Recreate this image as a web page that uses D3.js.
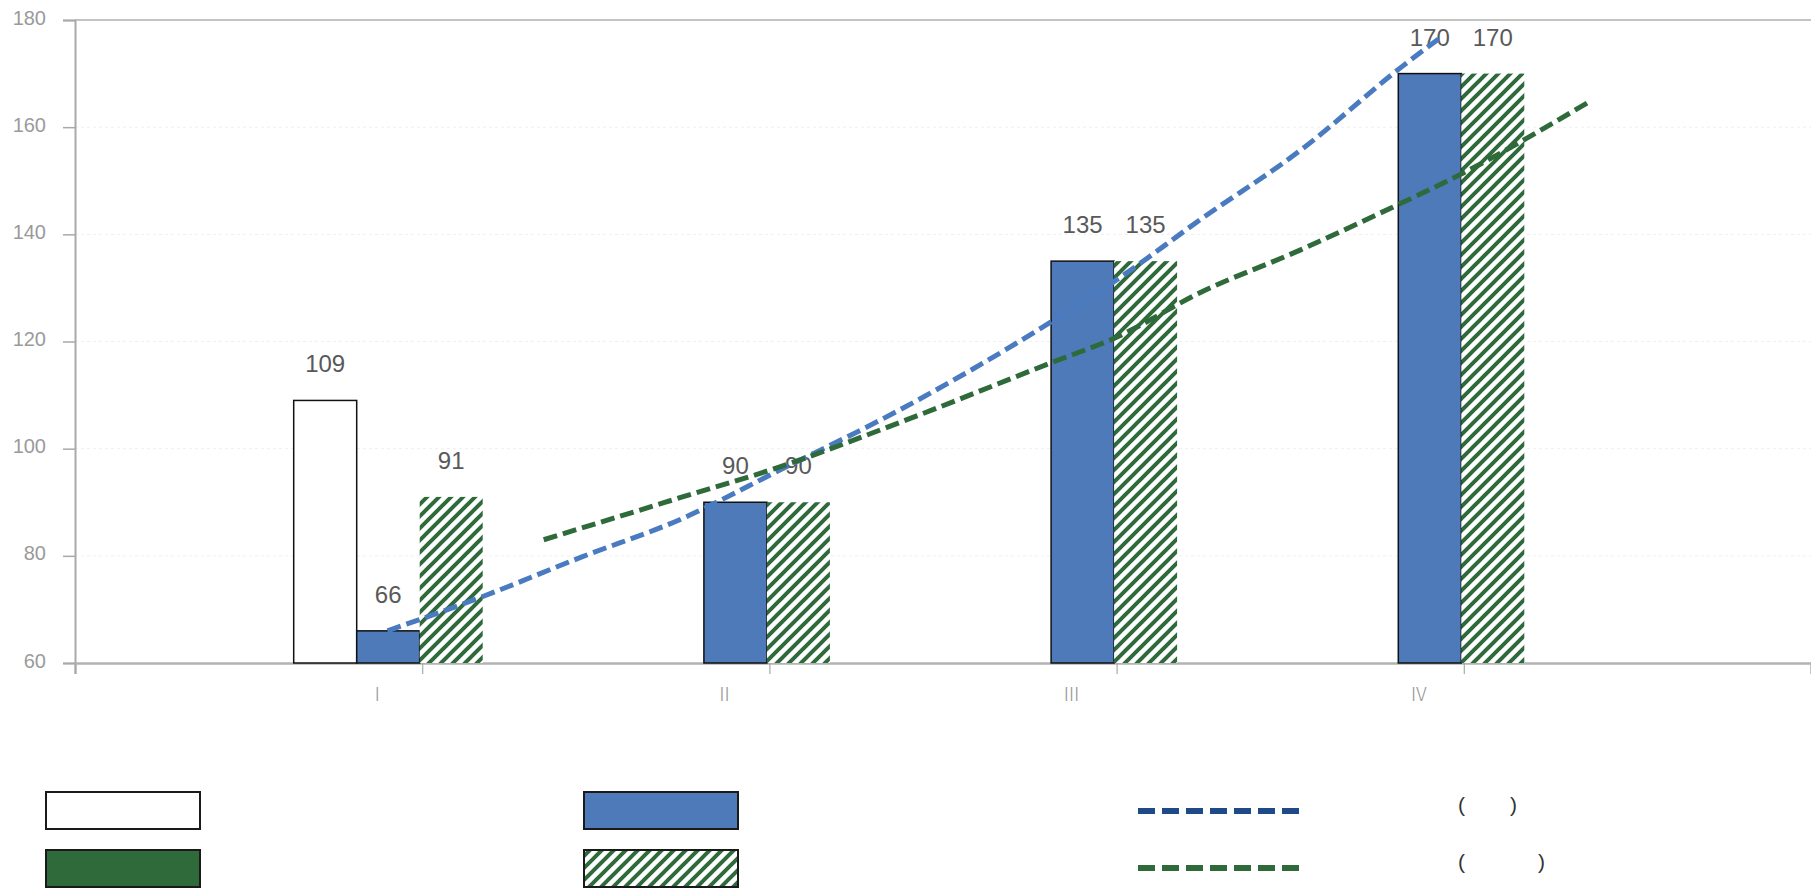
<!DOCTYPE html>
<html>
<head>
<meta charset="utf-8">
<script src="https://cdn.jsdelivr.net/npm/d3@7"></script>
<style>
  body { margin: 0; background: #fff; }
  svg { display: block; }
</style>
</head>
<body>
<div id="plot"></div>
<script>
// data
const CATEGORIES = ["Ⅰ", "Ⅱ", "Ⅲ", "Ⅳ"];
const WHITE_VALUES = [109, null, null, null];
const BLUE_VALUES = [66, 90, 135, 170];
const HATCH_VALUES = [91, 90, 135, 170];
const GREEN_VALUES = [null, null, null, null]; // only in the legend
const Y_TICKS = [60, 80, 100, 120, 140, 160, 180];

// trend lines (x in category units)
const BLUE_TREND_X = [0.9, 1.17, 1.46, 1.74, 2.03, 2.38, 2.81, 3.0, 3.24, 3.53, 3.82, 3.93];
const BLUE_TREND_Y = [66, 72.3, 79.8, 86.7, 96, 107.4, 123.6, 131.5, 142.7, 155.7, 171.2, 176.6];
const GREEN_TREND_X = [1.35, 1.74, 2.03, 2.38, 2.81, 3.0, 3.24, 3.53, 3.76, 4.0, 4.36];
const GREEN_TREND_Y = [83, 90.8, 96.6, 105, 116, 120.8, 129.1, 137.1, 144, 151.5, 164.7];

const BLUE = "#4e7aba";
const GREEN = "#2f6a3b";
const LINE_BLUE = "#4a7bc0";
const LEGEND_BLUE = "#1f4a88";

const width = 1811, height = 890;

let svg = d3.select("#plot").append("svg")
  .attr("width", width)
  .attr("height", height);

// hatch pattern (wide upward diagonal)
const P = 12;
let defs = svg.append("defs");
let pat = defs.append("pattern")
  .attr("id", "hatch")
  .attr("patternUnits", "userSpaceOnUse")
  .attr("width", P)
  .attr("height", P);
pat.append("rect").attr("width", P).attr("height", P).attr("fill", "#fff");
pat.append("path")
  .attr("d", "M-3," + (P + 3) + " L" + (P + 3) + ",-3 M-3,3 L3,-3 M" + (P - 3) + "," + (P + 3) + " L" + (P + 3) + "," + (P - 3))
  .attr("stroke", GREEN)
  .attr("stroke-width", 4);

let x = d3.scaleLinear().domain([0, 5]).range([75, 1811]);
let y = d3.scaleLinear().domain([60, 180]).range([663, 20]);

// gridlines
svg.append("g")
  .selectAll("line")
  .data(Y_TICKS.filter(d => d > 60 && d < 180))
  .enter()
  .append("line")
    .attr("x1", x(0)).attr("x2", width)
    .attr("y1", d => y(d)).attr("y2", d => y(d))
    .attr("stroke", "#efefef")
    .attr("stroke-dasharray", "3,3");

svg.append("line")
  .attr("x1", x(0)).attr("x2", width)
  .attr("y1", y(180)).attr("y2", y(180))
  .attr("stroke", "#c3c3c3")
  .attr("stroke-width", 2);

// y axis
let yAxis = svg.append("g")
  .attr("transform", "translate(" + x(0) + ",0)")
  .call(d3.axisLeft(y).tickValues(Y_TICKS).tickSize(12).tickPadding(17));
yAxis.select(".domain").attr("stroke", "#a9a9a9").attr("stroke-width", 2);
yAxis.selectAll(".tick line").attr("stroke", "#a9a9a9").attr("stroke-width", 1.5);
yAxis.selectAll(".tick text")
  .attr("fill", "#9a9a9a")
  .attr("dy", "0.2em")
  .style("font-family", "'Liberation Sans', Arial, sans-serif")
  .style("font-size", "20px");

// x axis
let xAxis = svg.append("g")
  .attr("transform", "translate(0," + y(60) + ")")
  .call(d3.axisBottom(x).tickValues([0, 1, 2, 3, 4]).tickSize(11).tickFormat(""));
xAxis.select(".domain").attr("stroke", "#b3b3b3").attr("stroke-width", 2.5);
xAxis.selectAll(".tick line").attr("stroke", "#a9a9a9").attr("stroke-width", 1.2);

svg.append("g")
  .selectAll("text")
  .data(CATEGORIES)
  .enter()
  .append("text")
    .attr("x", (d, i) => x(i + 1) - 45)
    .attr("y", 701)
    .attr("text-anchor", "middle")
    .attr("fill", "#9a9a9a")
    .style("font-family", "'Noto Sans CJK SC', sans-serif")
    .style("font-size", "19px")
    .style("font-weight", "300")
    .text(d => d);

// bars: 4 slots per category, width w
const w = 63;
const shift = -2.5;
const SERIES = [
  { values: WHITE_VALUES, slot: 0, fill: "#fff", stroke: "#111" },
  { values: BLUE_VALUES, slot: 1, fill: BLUE, stroke: "#111" },
  { values: HATCH_VALUES, slot: 2, fill: "url(#hatch)", stroke: "none" },
  { values: GREEN_VALUES, slot: 3, fill: GREEN, stroke: "#111" }
];

let bars = svg.append("g");
let labels = svg.append("g");
SERIES.forEach(function(s) {
  let pts = s.values.map((v, i) => ({ v: v, i: i })).filter(d => d.v != null);
  bars.selectAll(null)
    .data(pts)
    .enter()
    .append("rect")
      .attr("x", d => x(d.i + 1) + (s.slot - 2) * w + shift)
      .attr("y", d => y(d.v))
      .attr("width", w)
      .attr("height", d => y(60) - y(d.v))
      .attr("fill", s.fill)
      .attr("stroke", s.stroke)
      .attr("stroke-width", 1.5);
  labels.selectAll(null)
    .data(pts)
    .enter()
    .append("text")
      .attr("x", d => x(d.i + 1) + (s.slot - 2) * w + shift + w / 2)
      .attr("y", d => y(d.v) - 28)
      .attr("text-anchor", "middle")
      .attr("fill", "#595959")
      .style("font-family", "'Liberation Sans', Arial, sans-serif")
      .style("font-size", "24px")
      .text(d => d.v);
});

// trend lines
let line = d3.line()
  .x(d => x(d[0]))
  .y(d => y(d[1]))
  .curve(d3.curveMonotoneX);

svg.append("path")
  .datum(BLUE_TREND_X.map((v, i) => [v, BLUE_TREND_Y[i]]))
  .attr("d", line)
  .attr("fill", "none")
  .attr("stroke", LINE_BLUE)
  .attr("stroke-width", 5)
  .attr("stroke-dasharray", "14,6");

svg.append("path")
  .datum(GREEN_TREND_X.map((v, i) => [v, GREEN_TREND_Y[i]]))
  .attr("d", line)
  .attr("fill", "none")
  .attr("stroke", GREEN)
  .attr("stroke-width", 5)
  .attr("stroke-dasharray", "14,6");

// legend
let legend = svg.append("g");
const LEGEND_BOXES = [
  { x: 46, y: 792, fill: "#fff" },
  { x: 584, y: 792, fill: BLUE },
  { x: 46, y: 850, fill: GREEN },
  { x: 584, y: 850, fill: "url(#hatch)" }
];
legend.selectAll("rect")
  .data(LEGEND_BOXES)
  .enter()
  .append("rect")
    .attr("x", d => d.x)
    .attr("y", d => d.y)
    .attr("width", 154)
    .attr("height", 37)
    .attr("fill", d => d.fill)
    .attr("stroke", "#1a1a1a")
    .attr("stroke-width", 2);

const LEGEND_LINES = [
  { y: 811, color: LEGEND_BLUE, close: 1510 },
  { y: 868, color: GREEN, close: 1538 }
];
LEGEND_LINES.forEach(function(l) {
  legend.append("line")
    .attr("x1", 1138).attr("x2", 1300)
    .attr("y1", l.y).attr("y2", l.y)
    .attr("stroke", l.color)
    .attr("stroke-width", 6)
    .attr("stroke-dasharray", "17,7");
  legend.append("text")
    .attr("x", 1458).attr("y", l.y + 1)
    .attr("fill", "#333")
    .style("font-family", "'Liberation Sans', Arial, sans-serif")
    .style("font-size", "21px")
    .text("(");
  legend.append("text")
    .attr("x", l.close).attr("y", l.y + 1)
    .attr("fill", "#333")
    .style("font-family", "'Liberation Sans', Arial, sans-serif")
    .style("font-size", "21px")
    .text(")");
});
</script>
</body>
</html>
